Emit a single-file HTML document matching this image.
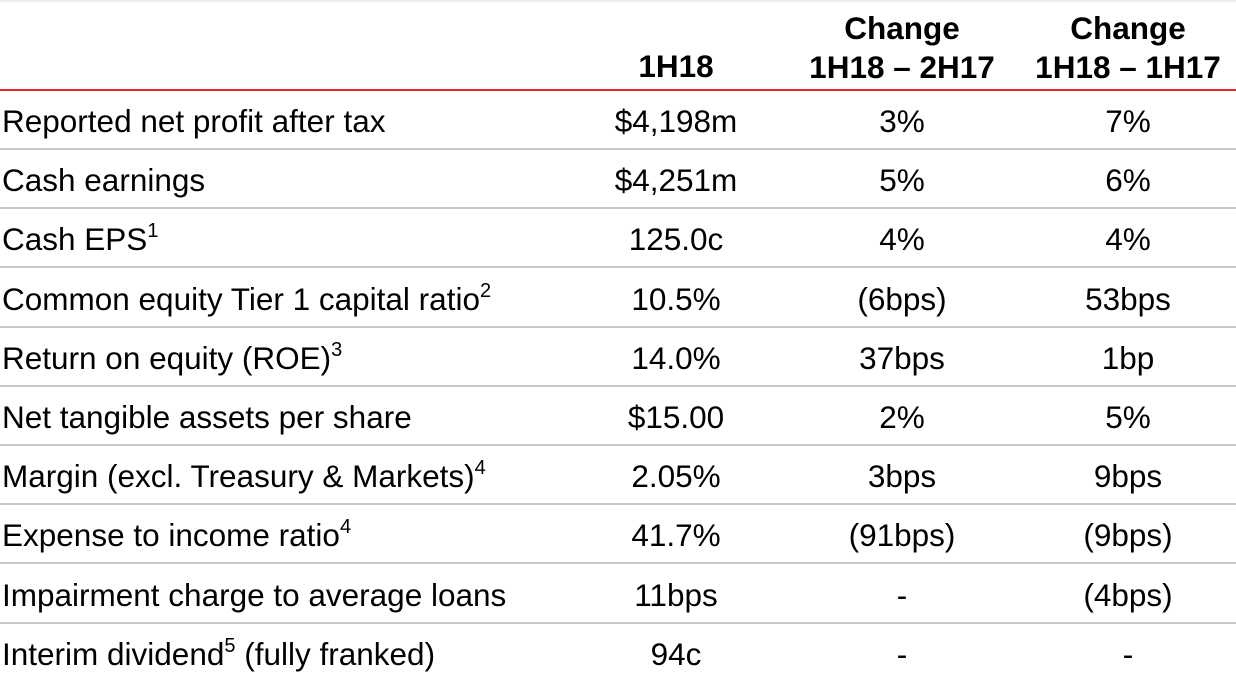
<!DOCTYPE html>
<html><head><meta charset="utf-8"><style>
body{margin:0;width:1236px;height:682px;background:#fff;overflow:hidden;font-family:"Liberation Sans",Arial,sans-serif;color:#000;position:relative}
.topband{position:absolute;left:0;top:0;width:1236px;height:2px;background:#eee}
.h{position:absolute;font-weight:bold;font-size:31.5px;text-align:center;line-height:39px}
.red{position:absolute;left:0;top:89px;width:1236px;height:2px;background:#e8262a}
.row{position:absolute;left:0;width:1236px;height:59px;border-bottom:2px solid #c8c8c8;box-sizing:border-box}
.row div{position:absolute;top:2px;height:57px;line-height:57px;font-size:31.5px;white-space:nowrap}
.l{left:2px}
.c{width:240px;text-align:center}
sup{font-size:20px;vertical-align:top;line-height:40px}
</style></head><body>
<div class="topband"></div>
<div class="h" style="left:556px;width:240px;top:47px">1H18</div>
<div class="h" style="left:772px;width:260px;top:9px">Change<br>1H18 – 2H17</div>
<div class="h" style="left:998px;width:260px;top:9px">Change<br>1H18 – 1H17</div>
<div class="red"></div>
<div id="rows"></div>
<script>
const labels=["Reported net profit after tax","Cash earnings","Cash EPS<sup>1</sup>","Common equity Tier 1 capital ratio<sup>2</sup>","Return on equity (ROE)<sup>3</sup>","Net tangible assets per share","Margin (excl. Treasury &amp; Markets)<sup>4</sup>","Expense to income ratio<sup>4</sup>","Impairment charge to average loans","Interim dividend<sup>5</sup> (fully franked)"];
const v1h18=["$4,198m","$4,251m","125.0c","10.5%","14.0%","$15.00","2.05%","41.7%","11bps","94c"];
const vch2h17=["3%","5%","4%","(6bps)","37bps","2%","3bps","(91bps)","-","-"];
const vch1h17=["7%","6%","4%","53bps","1bp","5%","9bps","(9bps)","(4bps)","-"];
const wrap=document.getElementById('rows');
labels.forEach((lab,i)=>{
  const r=document.createElement('div');
  r.className='row';
  
  
  r.style.top=(91+i*59.2)+'px';
  if(i===labels.length-1){r.style.borderBottom='none';}
  r.innerHTML='<div class="l">'+lab+'</div>'+
   '<div class="c" style="left:556px">'+v1h18[i]+'</div>'+
   '<div class="c" style="left:782px">'+vch2h17[i]+'</div>'+
   '<div class="c" style="left:1008px">'+vch1h17[i]+'</div>';
  wrap.appendChild(r);
});
</script>
</body></html>
